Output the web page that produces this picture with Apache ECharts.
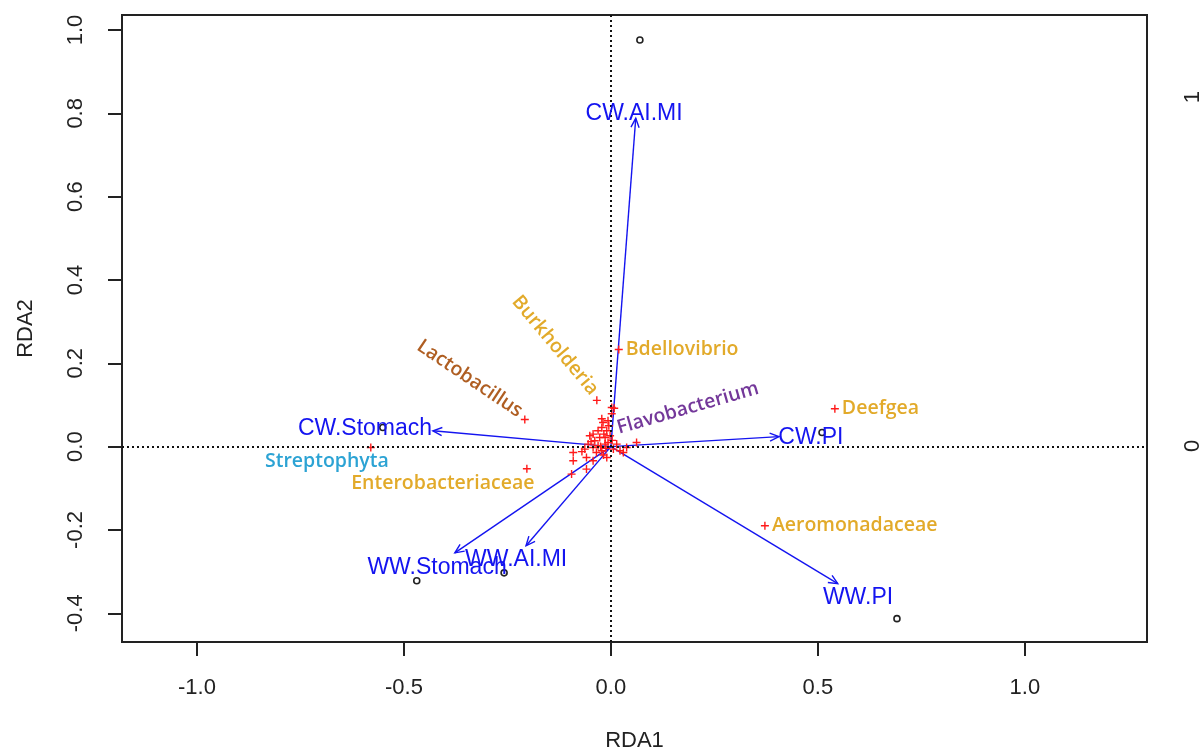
<!DOCTYPE html>
<html>
<head>
<meta charset="utf-8">
<script src="https://cdn.jsdelivr.net/npm/echarts@6/dist/echarts.min.js"></script>
<style>
  html, body { margin: 0; padding: 0; background: #fff; }
  #chart { width: 1204px; height: 755px; }
</style>
</head>
<body>
<div id="chart"></div>
<script>
// RDA biplot: constraint arrows, site scores and taxon scores

// axis ranges and tick labels
const xRange = [-1.181, 1.295];
const yRange = [-0.469, 1.036];
const xTicks = [-1.0, -0.5, 0.0, 0.5, 1.0];
const yTicks = [-0.4, -0.2, 0.0, 0.2, 0.4, 0.6, 0.8, 1.0];
const y2Range = [-0.563, 1.236];
const y2Ticks = [0, 1];

// constraint (explanatory) arrows
const arrowNames = ['CW.AI.MI', 'CW.Stomach', 'CW.PI', 'WW.Stomach', 'WW.AI.MI', 'WW.PI'];
const arrowX = [0.060, -0.430, 0.406, -0.377, -0.205, 0.548];
const arrowY = [0.788, 0.038, 0.024, -0.255, -0.238, -0.329];
// label anchors of the arrows (biplot label scores)
const arrowLabelX = [0.056, -0.594, 0.483, -0.420, -0.229, 0.597];
const arrowLabelY = [0.800, 0.043, 0.022, -0.291, -0.272, -0.363];

// site scores
const siteX = [0.070, -0.551, 0.510, -0.469, -0.258, 0.691];
const siteY = [0.976, 0.046, 0.034, -0.322, -0.303, -0.413];

// named taxa
const taxonNames = ['Bdellovibrio', 'Deefgea', 'Aeromonadaceae', 'Lactobacillus', 'Streptophyta',
                    'Enterobacteriaceae', 'Burkholderia', 'Flavobacterium'];
const taxonX = [0.019, 0.541, 0.372, -0.208, -0.580, -0.203, -0.034, 0.002];
const taxonY = [0.233, 0.091, -0.190, 0.065, -0.002, -0.053, 0.111, 0.094];

// remaining taxa, clustered near the origin
const otherTaxaX = [0.008, 0.002, -0.019, -0.022, -0.031, -0.043, -0.051, -0.010, -0.027, -0.039,
                    -0.055, -0.014, -0.007, -0.031, -0.043, -0.063, -0.091, -0.091, -0.059, -0.035,
                    -0.022, 0.006, 0.022, 0.030, 0.062, 0.038, -0.059, -0.095, -0.043, -0.010,
                    0.014, -0.002, -0.014, -0.022, -0.007, -0.005, -0.017, -0.025, -0.012, 0.003,
                    -0.048, -0.070, -0.018];
const otherTaxaY = [0.092, 0.079, 0.058, 0.046, 0.038, 0.030, 0.026, 0.038, 0.022, 0.014,
                    0.006, 0.006, 0.010, 0.002, -0.002, -0.006, -0.014, -0.034, -0.026, -0.014,
                    -0.010, -0.006, -0.010, -0.014, 0.010, -0.002, -0.054, -0.066, -0.034, -0.026,
                    0.006, 0.026, 0.022, 0.067, 0.062, 0.050, 0.030, 0.000, -0.004, 0.015,
                    0.012, -0.012, -0.020];

// label styling of the named taxa
const GOLD = '#E2AA2A';
const taxonLabelStyle = {
  'Bdellovibrio':       { color: GOLD, position: 'right' },
  'Deefgea':            { color: GOLD, position: 'right' },
  'Aeromonadaceae':     { color: GOLD, position: 'right' },
  'Lactobacillus':      { color: '#AF5E22', at: [-0.341, 0.163], rotate: -34 },
  'Streptophyta':       { color: '#2CA3D4', at: [-0.686, -0.036], rotate: 0 },
  'Enterobacteriaceae': { color: GOLD, at: [-0.406, -0.089], rotate: 0 },
  'Burkholderia':       { color: GOLD, at: [-0.135, 0.243], rotate: -50 },
  'Flavobacterium':     { color: '#74389A', at: [0.186, 0.092], rotate: 16 }
};

const BLUE = '#1414F0';
const AXIS_FONT = '"Liberation Sans", Arial, sans-serif';
const TAXON_FONT = '"Open Sans", Lato, sans-serif';
const PLUS = 'path://M3.3,0h1.4v3.3h3.3v1.4h-3.3v3.3h-1.4v-3.3h-3.3v-1.4h3.3z';

const arrowData = arrowX.map((x, i) => [x, arrowY[i]]);
const arrowLabelData = arrowLabelX.map((x, i) => ({ value: [x, arrowLabelY[i]], name: arrowNames[i] }));
const siteData = siteX.map((x, i) => [x, siteY[i]]);
const taxonPoints = taxonX.map((x, i) => [x, taxonY[i]])
  .concat(otherTaxaX.map((x, i) => [x, otherTaxaY[i]]));

// one label item per named taxon
const taxonLabelData = taxonNames.map((n, i) => {
  const s = taxonLabelStyle[n];
  if (s.position) {
    return {
      value: [taxonX[i], taxonY[i]], name: n,
      label: { position: 'right', distance: 7, color: s.color, align: 'left' }
    };
  }
  return {
    value: s.at, name: n,
    label: { position: 'inside', rotate: s.rotate, color: s.color, align: 'center', verticalAlign: 'middle' }
  };
});

const chart = echarts.init(document.getElementById('chart'), null, { renderer: 'canvas' });

const axisLabelBase = { color: '#222', fontFamily: AXIS_FONT, fontSize: 22 };

chart.setOption({
  animation: false,
  backgroundColor: '#fff',
  grid: {
    left: 122, right: 57, top: 15, bottom: 113,
    outerBoundsMode: 'none', containLabel: false,
    show: true, borderColor: '#222', borderWidth: 2, backgroundColor: 'transparent'
  },
  xAxis: {
    type: 'value', min: xRange[0], max: xRange[1],
    name: 'RDA1', nameLocation: 'middle', nameGap: 88,
    nameTextStyle: { color: '#222', fontFamily: AXIS_FONT, fontSize: 22 },
    axisLine: { show: false, onZero: false },
    splitLine: { show: false },
    axisTick: { show: true, length: 14, customValues: xTicks, lineStyle: { color: '#222', width: 2 } },
    axisLabel: Object.assign({}, axisLabelBase, {
      margin: 35, customValues: xTicks,
      formatter: v => v.toFixed(1)
    })
  },
  yAxis: [{
    type: 'value', min: yRange[0], max: yRange[1],
    name: 'RDA2', nameLocation: 'middle', nameGap: 85, nameRotate: 90,
    nameTextStyle: { color: '#222', fontFamily: AXIS_FONT, fontSize: 22 },
    axisLine: { show: false, onZero: false },
    splitLine: { show: false },
    axisTick: { show: true, length: 14, customValues: yTicks, lineStyle: { color: '#222', width: 2 } },
    axisLabel: Object.assign({}, axisLabelBase, {
      margin: 35, rotate: 90, customValues: yTicks,
      formatter: v => v.toFixed(1)
    })
  }, {
    type: 'value', position: 'right', min: y2Range[0], max: y2Range[1],
    axisLine: { show: false, onZero: false },
    splitLine: { show: false },
    axisTick: { show: false },
    axisLabel: Object.assign({}, axisLabelBase, {
      margin: 35, rotate: 90, customValues: y2Ticks,
      formatter: v => String(v)
    })
  }],
  series: [
    {
      // reference lines through the origin
      type: 'line', data: [], silent: true,
      markLine: {
        silent: true, symbol: 'none', label: { show: false },
        lineStyle: { color: '#111', type: [2, 3], width: 2 },
        data: [{ xAxis: 0 }, { yAxis: 0 }]
      }
    },
    {
      // constraint arrows drawn from the origin with open heads
      type: 'custom', data: arrowData, encode: { x: 0, y: 1 }, z: 3, silent: true,
      renderItem: (params, api) => {
        const o = api.coord([0, 0]);
        const t = api.coord([api.value(0), api.value(1)]);
        const a = Math.atan2(t[1] - o[1], t[0] - o[0]);
        const h = 10, w = 0.42;
        const p1 = [t[0] - h * Math.cos(a - w), t[1] - h * Math.sin(a - w)];
        const p2 = [t[0] - h * Math.cos(a + w), t[1] - h * Math.sin(a + w)];
        const st = { stroke: BLUE, lineWidth: 1.4, fill: null };
        return {
          type: 'group',
          children: [
            { type: 'line', shape: { x1: o[0], y1: o[1], x2: t[0], y2: t[1] }, style: st },
            { type: 'polyline', shape: { points: [p1, t, p2] }, style: st }
          ]
        };
      }
    },
    {
      // taxon scores
      type: 'scatter', data: taxonPoints, symbol: PLUS, symbolSize: 8, z: 4, silent: true,
      itemStyle: { color: '#FF1A1A', opacity: 1 }
    },
    {
      // site scores
      type: 'scatter', data: siteData, symbol: 'circle', symbolSize: 6, z: 5, silent: true,
      itemStyle: { color: '#fff', borderColor: '#222', borderWidth: 1.6, opacity: 1 }
    },
    {
      // arrow names
      type: 'scatter', data: arrowLabelData, symbolSize: 0, z: 6, silent: true,
      itemStyle: { opacity: 1 },
      label: {
        show: true, position: 'inside', formatter: p => p.name,
        color: BLUE, fontFamily: AXIS_FONT, fontSize: 23,
        align: 'center', verticalAlign: 'middle'
      }
    },
    {
      // taxon names
      type: 'scatter', data: taxonLabelData, symbolSize: 0, z: 6, silent: true,
      itemStyle: { opacity: 1 },
      label: {
        show: true, formatter: p => p.name,
        fontFamily: TAXON_FONT, fontSize: 19.5, fontWeight: 600
      }
    }
  ]
});
</script>
</body>
</html>
